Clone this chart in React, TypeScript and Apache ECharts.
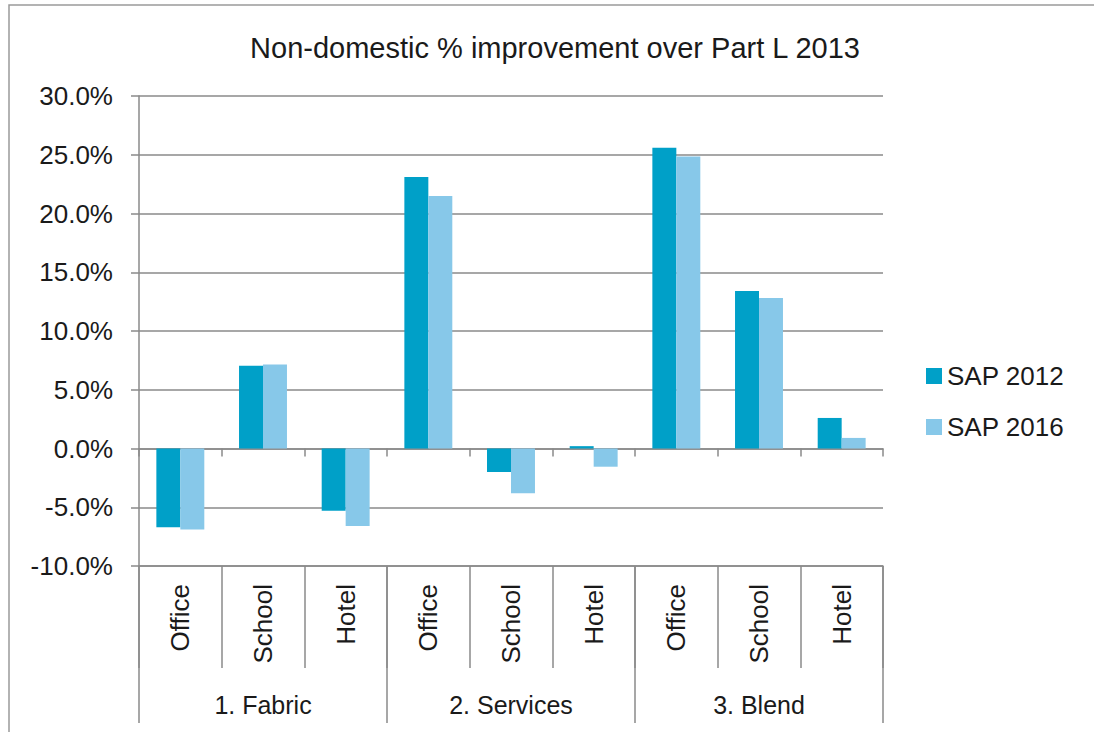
import React, { useEffect, useRef } from "react";
import * as echarts from "echarts";

const buildingTypes = ["Office", "School", "Hotel", "Office", "School", "Hotel", "Office", "School", "Hotel"];
const groups = ["1. Fabric", "2. Services", "3. Blend"];
const sap2012 = [-6.7, 7.05, -5.3, 23.1, -2.0, 0.2, 25.6, 13.4, 2.6];
const sap2016 = [-6.9, 7.15, -6.6, 21.5, -3.8, -1.55, 24.85, 12.8, 0.9];
const yTicks = { min: -10, max: 30, interval: 5 };

const FONT = "Liberation Sans";
const GRID_COLOR = "#8a8a8a";
const TEXT_COLOR = "#1a1a1a";

export default function App() {
  const ref = useRef<HTMLDivElement>(null);
  useEffect(() => {
    if (!ref.current) return;
    const chart = echarts.init(ref.current, undefined, { renderer: "svg" });
    chart.setOption({
      animation: false,
      backgroundColor: "#ffffff",
      textStyle: { fontFamily: FONT },
      title: {
        text: "Non-domestic % improvement over Part L 2013",
        left: 550,
        top: 28,
        textAlign: "center",
        textStyle: { fontFamily: FONT, fontSize: 29, fontWeight: "normal", color: TEXT_COLOR },
      },
      graphic: [
        {
          type: "rect",
          shape: { x: 9, y: 5, width: 1300, height: 900 },
          style: { fill: "none", stroke: "#9a9a9a", lineWidth: 1.5 },
          silent: true,
        },
      ],
      legend: {
        orient: "vertical",
        left: 926,
        top: 363,
        padding: 0,
        itemWidth: 16,
        itemHeight: 16,
        itemGap: 25,
        icon: "rect",
        textStyle: { fontFamily: FONT, fontSize: 26, color: TEXT_COLOR },
        data: ["SAP 2012", "SAP 2016"],
      },
      grid: { left: 139, right: 211, top: 96, bottom: 166, containLabel: false },
      xAxis: [
        {
          type: "category",
          data: buildingTypes,
          position: "bottom",
          axisLine: { onZero: true, lineStyle: { color: GRID_COLOR, width: 1.5 } },
          axisTick: { show: true, length: 8, lineStyle: { color: GRID_COLOR, width: 1.5 } },
          axisLabel: { show: false },
          splitLine: { show: false },
        },
        {
          type: "category",
          data: buildingTypes,
          position: "bottom",
          axisLine: { onZero: false, show: true, lineStyle: { color: GRID_COLOR, width: 1.5 } },
          axisTick: { show: true, length: 102, lineStyle: { color: GRID_COLOR, width: 1.5 } },
          axisLabel: {
            show: true,
            rotate: 90,
            margin: 18,
            interval: 0,
            fontFamily: FONT,
            fontSize: 26,
            color: TEXT_COLOR,
          },
        },
        {
          type: "category",
          data: groups,
          position: "bottom",
          axisLine: { onZero: false, show: false },
          axisTick: { show: true, length: 157, lineStyle: { color: GRID_COLOR, width: 1.5 } },
          axisLabel: {
            show: true,
            margin: 126,
            interval: 0,
            fontFamily: FONT,
            fontSize: 25,
            color: TEXT_COLOR,
          },
        },
      ],
      yAxis: {
        type: "value",
        min: yTicks.min,
        max: yTicks.max,
        interval: yTicks.interval,
        axisLine: { show: true, lineStyle: { color: GRID_COLOR, width: 1.5 } },
        axisTick: { show: true, length: 8, lineStyle: { color: GRID_COLOR, width: 1.5 } },
        axisLabel: {
          margin: 26,
          fontFamily: FONT,
          fontSize: 26,
          color: TEXT_COLOR,
          formatter: (v: number) => v.toFixed(1) + "%",
        },
        splitLine: { show: true, lineStyle: { color: GRID_COLOR, width: 1.5 } },
      },
      series: [
        {
          name: "SAP 2012",
          type: "bar",
          xAxisIndex: 0,
          data: sap2012,
          barGap: "0%",
          barCategoryGap: "42%",
          itemStyle: { color: "#00A0C8" },
        },
        {
          name: "SAP 2016",
          type: "bar",
          xAxisIndex: 0,
          data: sap2016,
          barGap: "0%",
          barCategoryGap: "42%",
          itemStyle: { color: "#87C8E9" },
        },
      ],
    });
    return () => chart.dispose();
  }, []);
  return (
    <div
      ref={ref}
      style={{ position: "fixed", left: 0, top: 0, width: 1094, height: 732, background: "#fff" }}
    />
  );
}
